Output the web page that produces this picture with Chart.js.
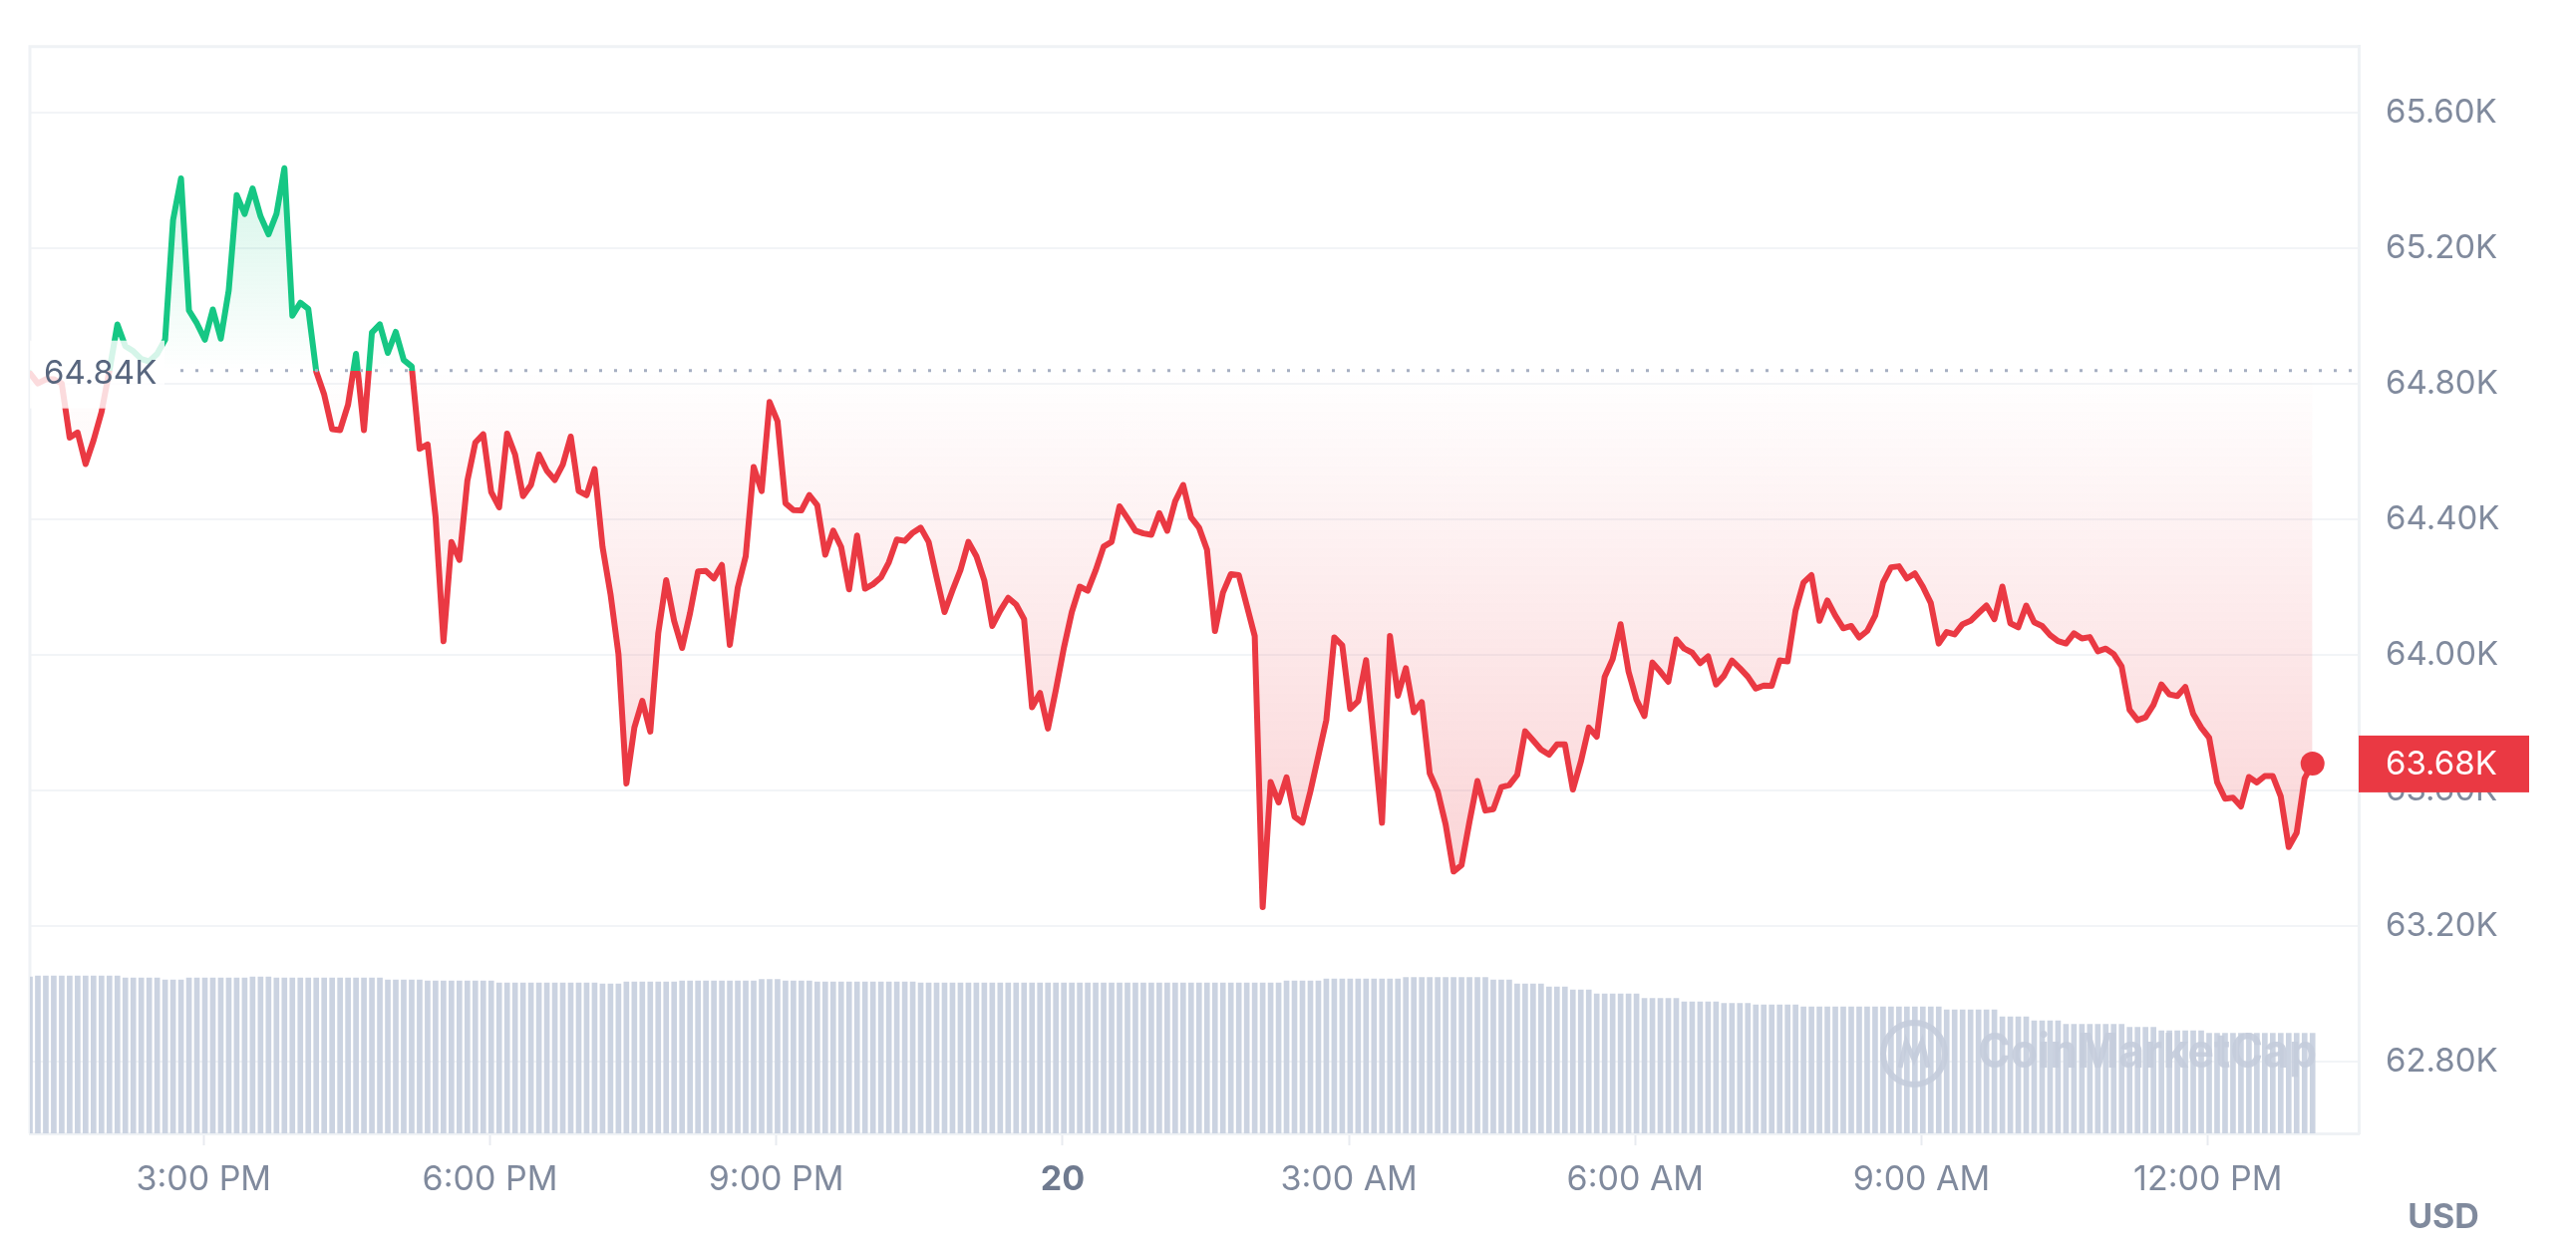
<!DOCTYPE html>
<html>
<head>
<meta charset="utf-8">
<title>BTC 1D</title>
<script src="https://cdn.jsdelivr.net/npm/chart.js@4.4.1/dist/chart.umd.min.js"></script>
<style>
    html, body { margin: 0; padding: 0; background: #ffffff; }
    #wrap { position: relative; width: 2584px; height: 1256px; }
</style>
</head>
<body>
<div id="wrap"><canvas id="priceChart"></canvas></div>
<script>
// 5 minute closes, 19th ~1:11 PM -> 20th ~1:06 PM (x axis is hours since 00:00 of the 19th)
const startHour = 13.18;
const stepMinutes = 5;
const openPrice = 64840;

const prices = [
    64832, 64802, 64814, 64814, 64802, 64642, 64657, 64564, 64634, 64717,
    64840, 64976, 64912, 64897, 64874, 64867, 64889, 64931, 65284, 65407,
    65017, 64979, 64931, 65020, 64934, 65077, 65358, 65302, 65377, 65295,
    65242, 65302, 65437, 65002, 65040, 65022, 64837, 64769, 64667, 64664,
    64739, 64889, 64664, 64952, 64976, 64892, 64954, 64871, 64852, 64609,
    64622, 64409, 64041, 64334, 64281, 64514, 64627, 64652, 64481, 64436,
    64654, 64592, 64469, 64502, 64592, 64544, 64517, 64562, 64645, 64484,
    64472, 64549, 64319, 64180, 64003, 63621, 63786, 63865, 63774, 64064,
    64221, 64101, 64021, 64124, 64247, 64248, 64226, 64266, 64030, 64199,
    64292, 64555, 64484, 64747, 64690, 64448, 64428, 64427, 64472, 64442,
    64296, 64367, 64319, 64194, 64353, 64196, 64209, 64229, 64274, 64341,
    64337, 64361, 64376, 64334, 64229, 64127, 64191, 64251, 64334, 64292,
    64220, 64086, 64131, 64169, 64149, 64106, 63846, 63888, 63783, 63898,
    64021, 64127, 64202, 64190, 64250, 64320, 64334, 64439, 64404, 64367,
    64359, 64355, 64419, 64367, 64454, 64502, 64406, 64376, 64311, 64071,
    64184, 64239, 64236, 64146, 64056, 63256, 63625, 63565, 63639, 63523,
    63505, 63598, 63703, 63808, 64052, 64029, 63841, 63864, 63985, 63748,
    63505, 64056, 63880, 63961, 63831, 63861, 63651, 63598, 63500, 63361,
    63380, 63508, 63628, 63541, 63545, 63610, 63616, 63646, 63775, 63748,
    63721, 63706, 63736, 63736, 63603, 63685, 63786, 63759, 63936, 63988,
    64091, 63951, 63868, 63820, 63978, 63951, 63921, 64046, 64019, 64007,
    63976, 63996, 63913, 63939, 63984, 63961, 63936, 63901, 63910, 63909,
    63984, 63981, 64131, 64214, 64236, 64101, 64161, 64116, 64079, 64086,
    64052, 64071, 64116, 64214, 64259, 64262, 64226, 64241, 64202, 64154,
    64034, 64068, 64061, 64091, 64101, 64124, 64146, 64106, 64202, 64094,
    64082, 64146, 64097, 64086, 64059, 64041, 64034, 64064, 64049, 64053,
    64011, 64019, 64003, 63966, 63838, 63808, 63816, 63853, 63913, 63884,
    63879, 63906, 63826, 63786, 63756, 63625, 63576, 63579, 63553, 63640,
    63624, 63643, 63643, 63583, 63433, 63475, 63636, 63680
];

// rolling 24h volume, $B
const volumes = [
    31.4, 31.6, 31.6, 31.6, 31.6, 31.6, 31.6, 31.6, 31.6, 31.6,
    31.6, 31.6, 31.2, 31.2, 31.2, 31.2, 31.2, 30.8, 30.8, 30.8,
    31.2, 31.2, 31.2, 31.2, 31.2, 31.2, 31.2, 31.2, 31.4, 31.4,
    31.4, 31.2, 31.2, 31.2, 31.2, 31.2, 31.2, 31.2, 31.2, 31.2,
    31.2, 31.2, 31.2, 31.2, 31.2, 30.8, 30.8, 30.8, 30.8, 30.8,
    30.6, 30.6, 30.6, 30.6, 30.6, 30.6, 30.6, 30.6, 30.6, 30.2,
    30.2, 30.2, 30.2, 30.2, 30.2, 30.2, 30.2, 30.2, 30.2, 30.2,
    30.2, 30.2, 30.0, 30.0, 30.0, 30.4, 30.4, 30.4, 30.4, 30.4,
    30.4, 30.4, 30.6, 30.6, 30.6, 30.6, 30.6, 30.6, 30.6, 30.6,
    30.6, 30.6, 30.9, 30.9, 30.9, 30.6, 30.6, 30.6, 30.6, 30.4,
    30.4, 30.4, 30.4, 30.4, 30.4, 30.4, 30.4, 30.4, 30.4, 30.4,
    30.4, 30.4, 30.2, 30.2, 30.2, 30.2, 30.2, 30.2, 30.2, 30.2,
    30.2, 30.2, 30.2, 30.2, 30.2, 30.2, 30.2, 30.2, 30.2, 30.2,
    30.2, 30.2, 30.2, 30.2, 30.2, 30.2, 30.2, 30.2, 30.2, 30.2,
    30.2, 30.2, 30.2, 30.2, 30.2, 30.2, 30.2, 30.2, 30.2, 30.2,
    30.2, 30.2, 30.2, 30.2, 30.2, 30.2, 30.2, 30.2, 30.6, 30.6,
    30.6, 30.6, 30.6, 31.0, 31.0, 31.0, 31.0, 31.0, 31.0, 31.0,
    31.0, 31.0, 31.0, 31.3, 31.3, 31.3, 31.3, 31.3, 31.3, 31.3,
    31.3, 31.3, 31.3, 31.3, 30.8, 30.8, 30.8, 30.0, 30.0, 30.0,
    30.0, 29.4, 29.4, 29.4, 28.8, 28.8, 28.8, 28.0, 28.0, 28.0,
    28.0, 28.0, 28.0, 27.1, 27.1, 27.1, 27.1, 27.1, 26.4, 26.4,
    26.4, 26.4, 26.4, 26.1, 26.1, 26.1, 26.1, 25.8, 25.8, 25.8,
    25.8, 25.8, 25.8, 25.4, 25.4, 25.4, 25.4, 25.4, 25.4, 25.4,
    25.4, 25.4, 25.4, 25.4, 25.4, 25.4, 25.4, 25.4, 25.4, 25.4,
    25.4, 24.8, 24.8, 24.8, 24.8, 24.8, 24.8, 24.8, 23.4, 23.4,
    23.4, 23.4, 22.6, 22.6, 22.6, 22.6, 21.9, 21.9, 21.9, 21.9,
    21.9, 21.9, 21.9, 21.9, 21.3, 21.3, 21.3, 21.3, 20.6, 20.6,
    20.6, 20.6, 20.6, 20.6, 20.1, 20.1, 20.1, 20.1, 20.1, 20.1,
    20.1, 20.1, 20.1, 20.1, 20.1, 20.1, 20.1, 20.1
];

const tickHours = [15, 18, 21, 24, 27, 30, 33, 36];
const tickLabels = ['3:00 PM', '6:00 PM', '9:00 PM', '20', '3:00 AM', '6:00 AM', '9:00 AM', '12:00 PM'];
const priceTicks = [62800, 63200, 63600, 64000, 64400, 64800, 65200, 65600];

const green = '#16c784';
const red = '#ea3943';
const labelGrey = '#808a9d';
const dayGrey = '#6f7a8f';
const darkGrey = '#58667e';
const lineGrey = '#eff2f5';

Chart.defaults.font.family = "Inter, 'Noto Sans', sans-serif";

const times = prices.map((p, i) => startHour + i * stepMinutes / 60);
const pricePoints = prices.map((p, i) => ({x: times[i], y: p}));
const volumePoints = volumes.map((v, i) => ({x: times[i], y: v}));

function fmtK(v) {
    return (v / 1000).toFixed(2) + 'K';
}

const overlays = {
    id: 'overlays',
    beforeDatasetsDraw(chart) {
        const {ctx, chartArea: a} = chart;
        ctx.save();
        ctx.strokeStyle = lineGrey;
        ctx.lineWidth = 3;
        ctx.beginPath();
        ctx.moveTo(a.left, a.bottom);
        ctx.lineTo(a.left, a.top);
        ctx.lineTo(a.right, a.top);
        ctx.stroke();
        ctx.restore();
    },
    afterDatasetsDraw(chart) {
        const {ctx, chartArea: a} = chart;
        const yb = chart.scales.y.getPixelForValue(openPrice);
        ctx.save();

        // dotted open price line
        ctx.strokeStyle = '#a6afc2';
        ctx.lineWidth = 3;
        ctx.setLineDash([3, 12]);
        ctx.beginPath();
        ctx.moveTo(a.left + 151, yb);
        ctx.lineTo(a.right, yb);
        ctx.stroke();
        ctx.setLineDash([]);

        // label over the start of the line
        ctx.fillStyle = 'rgba(255,255,255,0.82)';
        ctx.fillRect(a.left, yb - 30, 135, 68);
        ctx.fillStyle = darkGrey;
        ctx.font = '33px Inter';
        ctx.textBaseline = 'middle';
        ctx.textAlign = 'left';
        ctx.fillText(fmtK(openPrice), a.left + 14, yb + 3);

        // watermark
        const wx = a.right - 446, wy = a.bottom - 80;
        ctx.strokeStyle = 'rgba(196,204,220,0.9)';
        ctx.lineWidth = 6;
        ctx.beginPath();
        ctx.arc(wx, wy, 31, 0, Math.PI * 2);
        ctx.stroke();
        ctx.lineWidth = 5;
        ctx.beginPath();
        ctx.moveTo(wx - 14, wy + 14);
        ctx.lineTo(wx - 8, wy - 12);
        ctx.lineTo(wx, wy + 6);
        ctx.lineTo(wx + 8, wy - 12);
        ctx.lineTo(wx + 14, wy + 14);
        ctx.stroke();
        ctx.fillStyle = 'rgba(196,204,220,0.9)';
        ctx.font = 'bold 48px Inter';
        ctx.fillText('CoinMarketCap', wx + 64, wy, 340);
        ctx.restore();
    },
    afterDraw(chart) {
        const {ctx, chartArea: a} = chart;
        const last = prices[prices.length - 1];
        const yl = chart.scales.y.getPixelForValue(last);
        ctx.save();
        ctx.fillStyle = red;
        ctx.fillRect(a.right, yl - 28, 171, 57);
        ctx.fillStyle = '#ffffff';
        ctx.font = '33px Inter';
        ctx.textBaseline = 'middle';
        ctx.textAlign = 'left';
        ctx.fillText(fmtK(last), a.right + 27, yl + 1);

        ctx.fillStyle = labelGrey;
        ctx.font = 'bold 34px Inter';
        ctx.textAlign = 'center';
        ctx.fillText('USD', a.right + 85, a.bottom + 85);
        ctx.restore();
    }
};

const chartData = {
    datasets: [
        {
            type: 'line',
            data: pricePoints,
            yAxisID: 'y',
            borderColor: red,
            borderWidth: 6,
            borderJoinStyle: 'round',
            borderCapStyle: 'round',
            tension: 0,
            fill: {value: openPrice, above: 'rgba(22,199,132,0.1)', below: 'rgba(234,57,67,0.1)'},
            pointRadius: ctx => ctx.dataIndex === prices.length - 1 ? 12 : 0,
            pointHoverRadius: 0,
            pointBackgroundColor: red,
            pointBorderWidth: 0
        },
        {
            type: 'bar',
            data: volumePoints,
            yAxisID: 'yv',
            backgroundColor: '#cbd3e1',
            barThickness: 5,
            borderWidth: 0
        }
    ]
};

const config = {
    data: chartData,
    options: {
        responsive: true,
        maintainAspectRatio: false,
        animation: false,
        events: [],
        layout: {
            padding: {left: 30, top: 46, right: 0, bottom: 0}
        },
        plugins: {
            legend: {display: false},
            tooltip: {enabled: false}
        },
        scales: {
            x: {
                type: 'linear',
                position: 'bottom',
                offset: false,
                min: startHour,
                max: 37.58,
                afterBuildTicks: axis => {
                    axis.ticks = tickHours.map(v => ({value: v}));
                },
                afterFit: axis => {
                    axis.height = 119;
                },
                grid: {
                    offset: false,
                    drawOnChartArea: false,
                    drawTicks: true,
                    tickLength: 12,
                    tickWidth: 2,
                    color: '#e8ebf0'
                },
                border: {display: true, color: lineGrey, width: 3},
                ticks: {
                    autoSkip: false,
                    maxRotation: 0,
                    padding: 14,
                    color: ctx => tickLabels[ctx.index] === '20' ? dayGrey : labelGrey,
                    font: ctx => tickLabels[ctx.index] === '20'
                        ? {size: 34, weight: 'bold'}
                        : {size: 34},
                    callback: value => tickLabels[tickHours.indexOf(value)]
                }
            },
            y: {
                type: 'linear',
                position: 'right',
                min: 62588,
                max: 65796,
                afterBuildTicks: axis => {
                    axis.ticks = priceTicks.map(v => ({value: v}));
                },
                afterFit: axis => {
                    axis.width = 218;
                },
                grid: {
                    color: '#f2f4f7',
                    lineWidth: 2,
                    drawTicks: false
                },
                border: {display: true, color: lineGrey, width: 3},
                ticks: {
                    padding: 27,
                    color: labelGrey,
                    font: {size: 33},
                    callback: value => fmtK(value)
                }
            },
            yv: {
                type: 'linear',
                display: false,
                min: 0,
                max: 218
            }
        }
    },
    plugins: [overlays]
};

const ctx = document.getElementById('priceChart').getContext('2d');
const myChart = new Chart(ctx, config);

// second pass: colours that depend on where the open price lands
function shadeByOpen(chart) {
    const {chartArea: a} = chart;
    const y = chart.scales.y;
    const yb = y.getPixelForValue(openPrice);
    const stop = (yb - a.top) / (a.bottom - a.top);

    const lineGrad = ctx.createLinearGradient(0, a.top, 0, a.bottom);
    lineGrad.addColorStop(0, green);
    lineGrad.addColorStop(stop, green);
    lineGrad.addColorStop(stop, red);
    lineGrad.addColorStop(1, red);

    const upGrad = ctx.createLinearGradient(0, yb, 0, y.getPixelForValue(65500));
    upGrad.addColorStop(0, 'rgba(22,199,132,0)');
    upGrad.addColorStop(1, 'rgba(22,199,132,0.2)');

    const downGrad = ctx.createLinearGradient(0, yb, 0, y.getPixelForValue(63200));
    downGrad.addColorStop(0, 'rgba(234,57,67,0)');
    downGrad.addColorStop(1, 'rgba(234,57,67,0.24)');

    const ds = chart.data.datasets[0];
    ds.borderColor = lineGrad;
    ds.fill = {value: openPrice, above: upGrad, below: downGrad};
    chart.update('none');
}

shadeByOpen(myChart);
</script>
</body>
</html>
